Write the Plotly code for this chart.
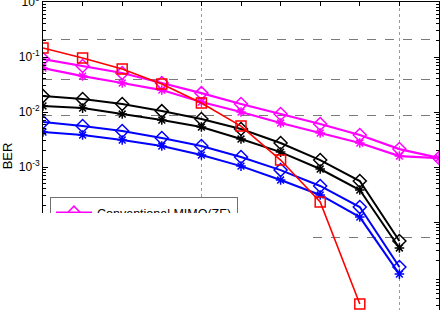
import plotly.graph_objects as go

# SNR axis values (dB)
snr = [0, 2, 4, 6, 8, 10, 12, 14, 16, 18, 20]

# BER series
ber_red_sq = [0.146, 0.0959, 0.0605, 0.0323, 0.0146, 0.00556, 0.00134, 2.31e-4, 3.23e-6]
ber_pink_d = [0.092, 0.0686, 0.0512, 0.0337, 0.0221, 0.014, 0.0092, 0.00605, 0.00382, 0.00212, 0.00146]
ber_pink_s = [0.0631, 0.0451, 0.0337, 0.0251, 0.0152, 0.010, 0.00631, 0.00415, 0.00273, 0.00158, 0.00145]
ber_black_d = [0.0195, 0.0172, 0.014, 0.0104, 0.00746, 0.00491, 0.00273, 0.00134, 5.56e-4, 4.52e-5]
ber_black_s = [0.0129, 0.0118, 0.0092, 0.00716, 0.00533, 0.00323, 0.00187, 9.2e-4, 3.82e-4, 3.37e-5]
ber_blue_d = [0.00658, 0.00556, 0.00452, 0.00337, 0.00241, 0.00152, 8.8e-4, 4.52e-4, 1.87e-4, 1.52e-5]
ber_blue_s = [0.00433, 0.00382, 0.0031, 0.00241, 0.00165, 0.00104, 5.8e-4, 3.1e-4, 1.23e-4, 1.13e-5]

legend_label = "Conventional MIMO(ZF)"
y_ticks = [1, 0.1, 0.01, 0.001, 0.0001]
y_ticktext = ["10<sup>0</sup>", "10<sup>-1</sup>", "10<sup>-2</sup>", "10<sup>-3</sup>", "10<sup>-4</sup>"]
dashed_grid = [0.212, 0.0398, 0.0088, 5.13e-5]
minor_y = [m * 10.0 ** e for e in range(-6, 0) for m in range(2, 10)]

FONT = "Arial, Liberation Sans, sans-serif"
fig = go.Figure()

def add(x, y, color, symbol, width, size, name, show):
    fig.add_trace(go.Scatter(
        x=x[:len(y)], y=y, mode="lines+markers", name=name, showlegend=show,
        line=dict(color=color, width=width),
        marker=dict(symbol=symbol, size=size, color=color,
                    line=dict(color=color, width=1.5)),
    ))

add(snr, ber_pink_d, "#ff00ff", "diamond-open", 2.2, 10, legend_label, True)
add(snr, ber_pink_s, "#ff00ff", "asterisk-open", 2.2, 8, "pink *", False)
add(snr, ber_black_d, "#000000", "diamond-open", 2, 10, "black d", False)
add(snr, ber_black_s, "#000000", "asterisk-open", 2, 8, "black *", False)
add(snr, ber_blue_d, "#0000ff", "diamond-open", 2, 10, "blue d", False)
add(snr, ber_blue_s, "#0000ff", "asterisk-open", 2, 8, "blue *", False)
add(snr, ber_red_sq, "#ff0000", "square-open", 1.6, 10, "red", False)

W, H = 445, 310
L, R, T, B = 43, 6, 2, 0
YR = [-5.6, 0.001]
fig.update_layout(
    width=W, height=H,
    margin=dict(l=L, r=R, t=T, b=B, autoexpand=False),
    paper_bgcolor="white", plot_bgcolor="white",
    font=dict(family=FONT, size=12, color="black"),
    xaxis=dict(
        range=[0, 20], showticklabels=False, side="top",
        tick0=8, dtick=10, ticks="inside", ticklen=4, tickcolor="black",
        showgrid=True, griddash="dot", gridcolor="#9a9a9a", gridwidth=1,
        minor=dict(tick0=0, dtick=2, ticks="inside", ticklen=4, tickcolor="black", showgrid=False),
        showline=True, linecolor="black", linewidth=1, mirror=True,
        zeroline=False,
    ),
    yaxis=dict(
        type="log", range=YR,
        tickvals=y_ticks, ticktext=y_ticktext, ticklabeloverflow="allow",
        ticks="inside", ticklen=5, tickcolor="black",
        showgrid=False, showline=True, linecolor="black", linewidth=1, mirror="ticks",
        title=dict(text="BER", standoff=8, font=dict(size=13)),
        automargin=False, zeroline=False,
    ),
    yaxis2=dict(
        type="log", range=YR, overlaying="y", side="left",
        tickvals=dashed_grid, showticklabels=False, ticks="",
        showgrid=True, griddash="dash", gridcolor="#7a7a7a", gridwidth=1,
        showline=False, zeroline=False,
    ),
    yaxis3=dict(
        type="log", range=YR, overlaying="y", side="left",
        tickvals=minor_y, showticklabels=False, ticks="inside", ticklen=3,
        tickcolor="black", mirror="ticks", showline=False,
        showgrid=False, zeroline=False,
    ),
    legend=dict(
        x=(50 - L) / (W - L - R), y=(H - B - 197) / (H - T - B),
        xanchor="left", yanchor="top",
        bgcolor="white", bordercolor="#707070", borderwidth=1,
        font=dict(size=12.5), itemwidth=36,
    ),
    annotations=[dict(
        xref="paper", yref="paper",
        x=-L / (W - L - R), y=0, xanchor="left", yanchor="bottom",
        text=" ", showarrow=False, width=310, height=97,
        bgcolor="white", borderpad=0, borderwidth=0,
    )],
)
# dummy traces to activate overlay axes
fig.add_trace(go.Scatter(x=[None], y=[None], yaxis="y2", showlegend=False, hoverinfo="skip"))
fig.add_trace(go.Scatter(x=[None], y=[None], yaxis="y3", showlegend=False, hoverinfo="skip"))

fig.write_html("out.html", config={"displayModeBar": False},
               post_script="document.body.style.margin='0px';document.body.style.padding='0px';")
